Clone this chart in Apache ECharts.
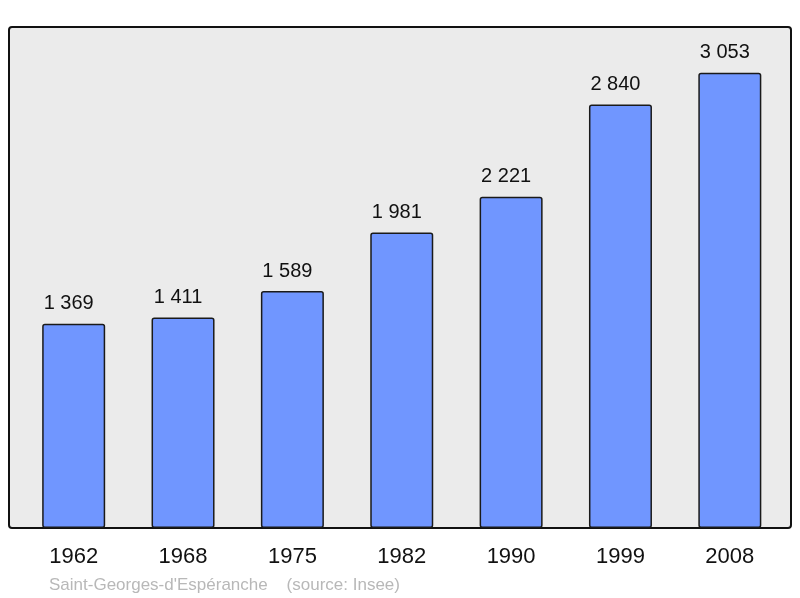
<!DOCTYPE html>
<html>
<head>
<meta charset="utf-8">
<title>Saint-Georges-d'Espéranche</title>
<script src="https://cdn.jsdelivr.net/npm/echarts@6/dist/echarts.min.js"></script>
<style>
	html, body { margin: 0; padding: 0; background: #fff; }
	#chart { width: 800px; height: 598px; }
</style>
</head>
<body>
<div id="chart"></div>
<script>
//人口柱状图
var years = ['1962', '1968', '1975', '1982', '1990', '1999', '2008'];
var population = [1369, 1411, 1589, 1981, 2221, 2840, 3053];
var yMax = 3360;

//千位空格分隔
function fmt(n) {
	return String(n).replace(/\B(?=(\d{3})+(?!\d))/g, ' ');
}

var myChart = echarts.init(document.getElementById('chart'));
var option = {
	animation: false,
	textStyle: { fontFamily: 'Liberation Sans, Arial, sans-serif' },
	title: {
		text: "Saint-Georges-d'Espéranche    (source: Insee)",
		left: 49,
		top: 577,
		padding: 0,
		textStyle: {
			color: '#b8b8b8',
			fontSize: 17,
			fontWeight: 'normal',
			fontFamily: 'Liberation Sans, Arial, sans-serif'
		}
	},
	graphic: [{
		type: 'rect',
		z: -10,
		silent: true,
		shape: { x: 9, y: 27, width: 782, height: 501, r: 3 },
		style: { fill: '#ebebeb', stroke: '#111', lineWidth: 2 }
	}],
	grid: {
		left: 19,
		right: 15.5,
		top: 27,
		bottom: 70
	},
	xAxis: {
		type: 'category',
		data: years,
		axisLine: { show: false },
		axisTick: { show: false },
		axisLabel: {
			color: '#111',
			fontSize: 22,
			margin: 18
		}
	},
	yAxis: {
		type: 'value',
		min: 0,
		max: yMax,
		show: false,
		splitLine: { show: false }
	},
	series: [{
		type: 'bar',
		data: population,
		barWidth: 63,
		itemStyle: {
			color: '#7096ff',
			borderColor: '#1a1a1a',
			borderWidth: 1.5,
			borderRadius: 2
		},
		label: {
			show: true,
			position: 'top',
			distance: 10,
			offset: [-5, 0],
			color: '#111',
			fontSize: 20,
			formatter: function(p) {
				return fmt(p.value)
			}
		}
	}]
};
myChart.setOption(option);
</script>
</body>
</html>
